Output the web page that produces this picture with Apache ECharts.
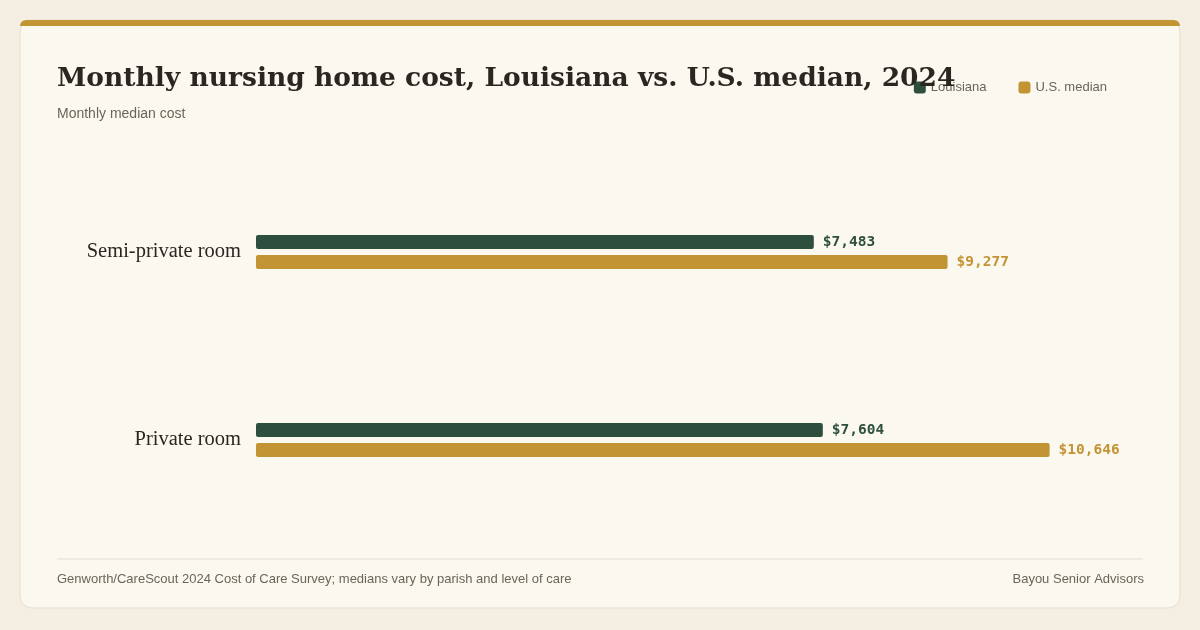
<!DOCTYPE html>
<html><head><meta charset="utf-8">
<script src="https://cdn.jsdelivr.net/npm/echarts@6/dist/echarts.min.js"></script>
<style>html,body{margin:0;background:#f5efe3}#c{width:1200px;height:630px}</style>
</head><body><div id="c"></div>
<script>
var categories = ['Semi-private room', 'Private room'];
var louisiana = [7483, 7604];
var usMedian = [9277, 10646];
var GREEN = '#2f4f3e', GOLD = '#c39433';
var chart = echarts.init(document.getElementById('c'));
function lbl(color) {
  return { show: true, position: 'right', distance: 9, color: color, fontFamily: 'DejaVu Sans Mono', fontWeight: 'bold', fontSize: 14.5,
    formatter: function (p) { return '$' + p.value.toLocaleString('en-US'); } };
}
chart.setOption({
  backgroundColor: '#f5efe3',
  graphic: [
    { type: 'rect', shape: { x: 20, y: 20, width: 1160, height: 588, r: 12 }, style: { fill: '#fbf8f0', stroke: '#e6dfcf', lineWidth: 1 }, z: -10 },
    { type: 'rect', shape: { x: 20, y: 20, width: 1160, height: 6, r: [6, 6, 0, 0] }, style: { fill: GOLD }, z: -9 },
    { type: 'line', shape: { x1: 57, y1: 559, x2: 1143, y2: 559 }, style: { stroke: '#e2dccd', lineWidth: 1 } },
    { type: 'text', left: 57, top: 573, style: { text: 'Genworth/CareScout 2024 Cost of Care Survey; medians vary by parish and level of care', fill: '#6b6558', font: '13px "Liberation Sans", Arial' } },
    { type: 'text', right: 56, top: 573, style: { text: 'Bayou Senior Advisors', fill: '#6b6558', font: '13px "Liberation Sans", Arial' } }
  ],
  title: {
    text: 'Monthly nursing home cost, Louisiana vs. U.S. median, 2024', subtext: 'Monthly median cost',
    left: 52, top: 61, itemGap: 14,
    textStyle: { fontFamily: 'DejaVu Serif', fontWeight: 'bold', fontSize: 26.5, color: '#2a2722' },
    subtextStyle: { fontFamily: 'Liberation Sans', fontSize: 14, color: '#6b6558' }
  },
  legend: {
    right: 88, top: 76, itemWidth: 12, itemHeight: 12, itemGap: 32, icon: 'roundRect',
    textStyle: { color: '#6b6558', fontFamily: 'Liberation Sans', fontSize: 13 },
    data: ['Louisiana', 'U.S. median']
  },
  grid: { left: 256, right: 124, top: 158, bottom: 96 },
  xAxis: { type: 'value', min: 0, max: 11000, show: false },
  yAxis: {
    type: 'category', data: categories, inverse: true,
    axisLine: { show: false }, axisTick: { show: false },
    axisLabel: { margin: 15, color: '#2a2722', fontFamily: 'Liberation Serif', fontSize: 20.5 }
  },
  series: [
    { name: 'Louisiana', type: 'bar', data: louisiana, barWidth: 14, barGap: '43%', itemStyle: { color: GREEN, borderRadius: 2 }, label: lbl(GREEN) },
    { name: 'U.S. median', type: 'bar', data: usMedian, barWidth: 14, itemStyle: { color: GOLD, borderRadius: 2 }, label: lbl(GOLD) }
  ]
});
</script></body></html>
